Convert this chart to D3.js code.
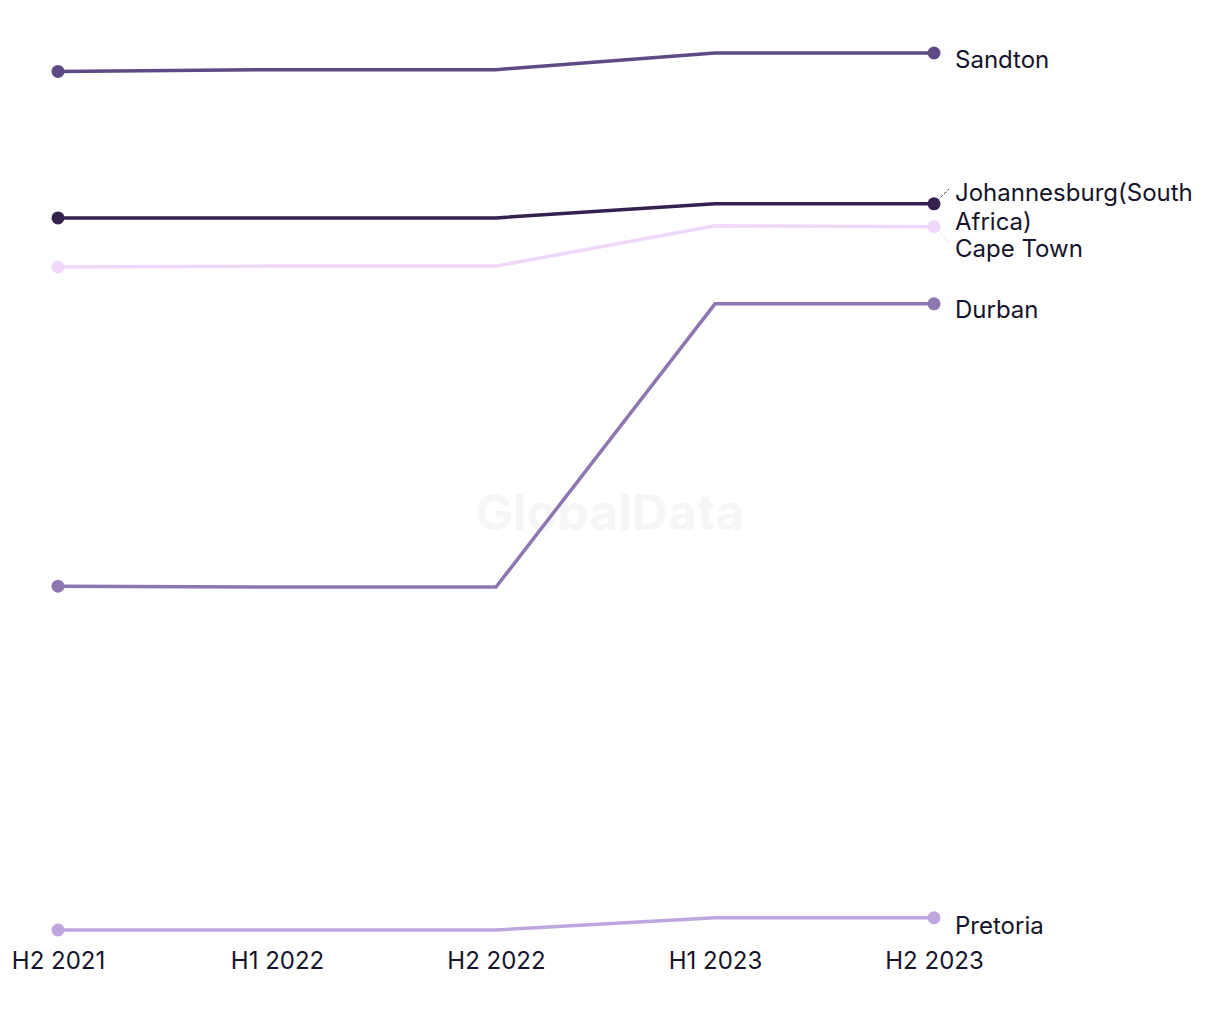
<!DOCTYPE html>
<html lang="en">
<head>
<meta charset="utf-8">
<script src="https://cdn.jsdelivr.net/npm/d3@7"></script>
<style>
body { margin: 0; background: #fff; font-family: "Inter", "Liberation Sans", sans-serif; }
</style>
</head>
<body>
<script>
// periods on the x axis
var periods = ["H2 2021", "H1 2022", "H2 2022", "H1 2023", "H2 2023"];
// index values (no y axis shown)
var sandton = [97.9, 98.1, 98.1, 100, 100];
var johannesburg = [81.2, 81.2, 81.2, 82.8, 82.8];
var capeTown = [75.6, 75.7, 75.7, 80.3, 80.2];
var durban = [39.2, 39.1, 39.1, 71.4, 71.4];
var pretoria = [0, 0, 0, 1.4, 1.4];
var names = ["Sandton", "Johannesburg(South Africa)", "Cape Town", "Durban", "Pretoria"];
var colors = ["#5e4a85", "#35214f", "#f0d8fb", "#8e77b0", "#c0a6e0"];

var series = [sandton, johannesburg, capeTown, durban, pretoria].map(function(v, i) {
  return { name: names[i], values: v, color: colors[i] };
});

var width = 1220, height = 1020;
var svg = d3.select("body").append("svg")
  .attr("width", width)
  .attr("height", height);

var x = d3.scalePoint().domain(periods).range([58, 934]);
var y = d3.scaleLinear().domain([0, 100]).range([930, 53]);

// watermark
svg.append("text")
  .attr("x", 610).attr("y", 530)
  .attr("text-anchor", "middle")
  .style("font-size", "50px")
  .style("font-weight", "bold")
  .style("fill", "#f6f6f6")
  .text("GlobalData");

// x axis labels
svg.append("g")
  .attr("transform", "translate(0,961)")
  .call(d3.axisBottom(x).tickSize(0).tickPadding(0))
  .call(function(g) { g.select(".domain").remove(); })
  .selectAll("text")
  .attr("dy", "0.35em")
  .style("font-family", "Inter, sans-serif")
  .style("font-size", "24px")
  .style("fill", "#15142a");

var line = d3.line()
  .x(function(d, i) { return x(periods[i]); })
  .y(function(d) { return y(d); });

var g = svg.selectAll(".series").data(series).enter().append("g");

g.append("path")
  .attr("d", function(d) { return line(d.values); })
  .attr("fill", "none")
  .attr("stroke", function(d) { return d.color; })
  .attr("stroke-width", 3.5);

g.selectAll("circle")
  .data(function(d) { return d.values.map(function(v, i) { return { v: v, i: i, color: d.color }; }).filter(function(p) { return p.i === 0 || p.i === periods.length - 1; }); })
  .enter().append("circle")
  .attr("cx", function(p) { return x(periods[p.i]); })
  .attr("cy", function(p) { return y(p.v); })
  .attr("r", 6.5)
  .attr("fill", function(p) { return p.color; });

// end labels, nudged apart where they collide
var labelY = { "Sandton": 60, "Johannesburg(South Africa)": 193, "Cape Town": 249, "Durban": 310, "Pretoria": 926 };
var labelX = 955;
var last = periods.length - 1;

series.forEach(function(s) {
  var ly = labelY[s.name];
  var ey = y(s.values[last]);
  var t = svg.append("text")
    .attr("x", labelX)
    .style("font-size", "24px")
    .style("fill", "#15142a");
  if (s.name === "Johannesburg(South Africa)") {
    t.append("tspan").attr("x", labelX).attr("y", ly).attr("dy", "0.35em").text("Johannesburg(South");
    t.append("tspan").attr("x", labelX).attr("y", ly + 29).attr("dy", "0.35em").text("Africa)");
    svg.append("line")
      .attr("x1", x(periods[last]) + 3).attr("y1", ey - 3)
      .attr("x2", labelX - 6).attr("y2", ly - 4)
      .attr("stroke", s.color).attr("stroke-width", 1).attr("stroke-dasharray", "3,2");
  } else {
    t.attr("y", ly).attr("dy", "0.35em").text(s.name);
    if (s.name === "Cape Town") {
      svg.append("line")
        .attr("x1", x(periods[last]) + 3).attr("y1", ey + 3)
        .attr("x2", labelX - 6).attr("y2", ly - 6)
        .attr("stroke", s.color).attr("stroke-width", 1).attr("stroke-dasharray", "3,2");
    }
  }
});
</script>
</body>
</html>
